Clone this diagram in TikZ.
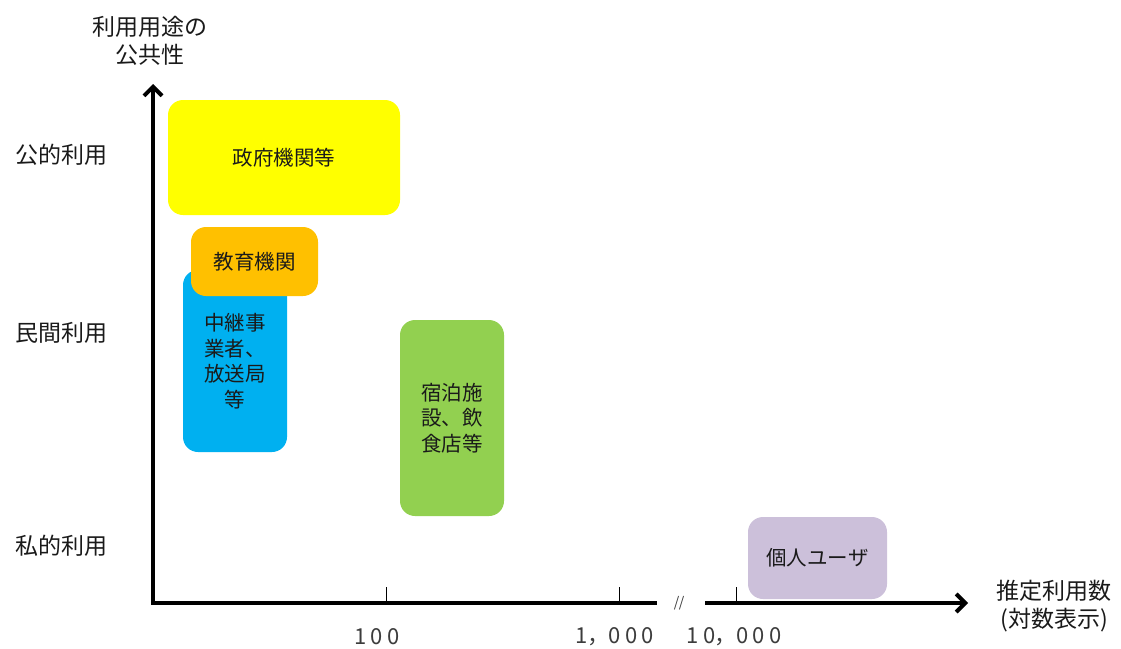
\documentclass[tikz,border=0pt]{standalone}
\usepackage{fontspec}
\newfontfamily\cjk{Noto Sans CJK JP}
\usetikzlibrary{arrows.meta}
\definecolor{cyellow}{HTML}{FFFF00}
\definecolor{corange}{HTML}{FFC000}
\definecolor{cblue}{HTML}{00B0F0}
\definecolor{cgreen}{HTML}{92D050}
\definecolor{cpurple}{HTML}{CCC0DA}
\definecolor{ctext}{HTML}{1A1A1A}
\newcommand{\dg}[1]{\makebox[16.5pt][c]{#1}}
\tikzset{
  cat/.style={rounded corners=15pt, draw=none, align=center, inner sep=0pt,
    font=\cjk\fontsize{20.5}{25.5}\selectfont, text=ctext},
  axis/.style={line width=4pt, black},
  tick/.style={line width=0.8pt, black},
  lab/.style={font=\cjk\fontsize{23}{28}\selectfont, text=ctext, align=center, inner sep=0pt},
  num/.style={font=\cjk\fontsize{22}{24}\selectfont, text=ctext!85, inner sep=0pt},
}
\begin{document}
\begin{tikzpicture}[x=1pt,y=-1pt]
\useasboundingbox (0,0) rectangle (1121,648);
% boxes
\node[cat, fill=cyellow, minimum width=232pt, minimum height=115pt] (gov) at (284,157.5) {政府機関等};
\node[cat, fill=cblue, minimum width=104pt, minimum height=182pt] (relay) at (235,361) {中継事\\業者、\\放送局\\等};
\node[cat, fill=corange, minimum width=127pt, minimum height=69pt] (edu) at (254.5,261.5) {教育機関};
\node[cat, fill=cgreen, minimum width=104pt, minimum height=196pt] (hotel) at (452,418) {宿泊施\\設、飲\\食店等};
\node[cat, fill=cpurple, minimum width=139pt, minimum height=82pt] (user) at (817.5,558) {個人ユーザ};
% axes
\coordinate (o) at (153,603);
\coordinate (ytip) at (153,84);
\coordinate (xa) at (151,603);
\coordinate (xb) at (657,603);
\coordinate (xc) at (705,603);
\coordinate (xtip) at (968,603);
\draw[axis, -{Straight Barb[length=9pt,width=18pt,line width=4pt]}] (o) -- (ytip);
\draw[axis] (xa) -- (xb);
\draw[axis, -{Straight Barb[length=9pt,width=18pt,line width=4pt]}] (xc) -- (xtip);
\node[font=\cjk\fontsize{14}{15}\selectfont, inner sep=0pt, text=ctext!85] (brk) at (679,603) {/\kern-0.5pt/};
% ticks
\coordinate (t1) at (386,587); \coordinate (t1b) at (386,603);
\coordinate (t2) at (619,587); \coordinate (t2b) at (619,603);
\coordinate (t3) at (736,587); \coordinate (t3b) at (736,603);
\draw[tick] (t1) -- (t1b);
\draw[tick] (t2) -- (t2b);
\draw[tick] (t3) -- (t3b);
\node[num] (n1) at (377,637) {\dg{1}\dg{0}\dg{0}};
\node[num] (n2) at (615,637) {\dg{1}\dg{，}\dg{0}\dg{0}\dg{0}};
\node[num] (n3) at (734,637) {\dg{1}\dg{0}\dg{，}\dg{0}\dg{0}\dg{0}};
% labels
\node[lab] (ytitle) at (150,41) {利用用途の\\公共性};
\node[lab] (xtitle) at (1054,606) {推定利用数\\(対数表示)};
\node[lab] (pub) at (61,155) {公的利用};
\node[lab] (priv) at (61,333) {民間利用};
\node[lab] (pers) at (61,546) {私的利用};
\end{tikzpicture}
\end{document}
